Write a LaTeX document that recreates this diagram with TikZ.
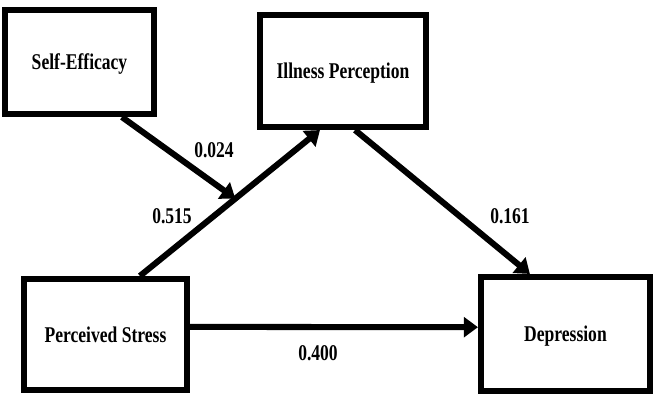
\documentclass[tikz,border=0pt]{standalone}
\usepackage{fontspec}
\setmainfont{Liberation Serif}[FakeStretch=0.78]
\usepackage{tikz}
\usetikzlibrary{arrows.meta, positioning, calc}

\begin{document}
\begin{tikzpicture}[
    x=0.025cm, y=-0.025cm,
    box/.style={
        rectangle, draw=black, line width=4.3pt,
        align=center, inner sep=0pt, text depth=0pt,
        font=\fontsize{16}{19}\selectfont\bfseries
    },
    coef/.style={
        inner sep=0pt, font=\fontsize{16}{19}\selectfont\bfseries
    },
    arrow/.style={-{Triangle[length=10pt, width=14pt]}, line width=4.3pt}
]

\useasboundingbox (0,0) rectangle (660,400);

% --- Variables ---
\node[box, minimum width=3.725cm, minimum height=2.6cm] (efficacy) at (79.5, 62)
    {Self-Efficacy};
\node[box, minimum width=4.15cm, minimum height=2.8cm] (illness) at (343, 71)
    {Illness Perception};
\node[box, minimum width=4.075cm, minimum height=2.775cm] (stress) at (105.5, 334.5)
    {Perceived Stress};
\node[box, minimum width=4.225cm, minimum height=2.85cm] (depression) at (565.5, 334)
    {Depression};

% --- Paths ---
\draw[arrow] ([xshift=0.86cm]stress.north) -- ([xshift=-0.575cm]illness.south)
    coordinate[pos=0.53] (moderate);
\draw[arrow] ([xshift=1.06cm]efficacy.south) -- (moderate);
\draw[arrow] ([xshift=0.3cm]illness.south) -- ([xshift=-0.89cm]depression.north);
\draw[arrow] ([yshift=0.19cm]stress.east) -- ([yshift=0.17cm]depression.west);

% --- Coefficients ---
\node[coef] (c024) at (214, 150) {0.024};
\node[coef] (c515) at (172, 216) {0.515};
\node[coef] (c161) at (510, 216) {0.161};
\node[coef] (c400) at (318, 353) {0.400};

\end{tikzpicture}
\end{document}
